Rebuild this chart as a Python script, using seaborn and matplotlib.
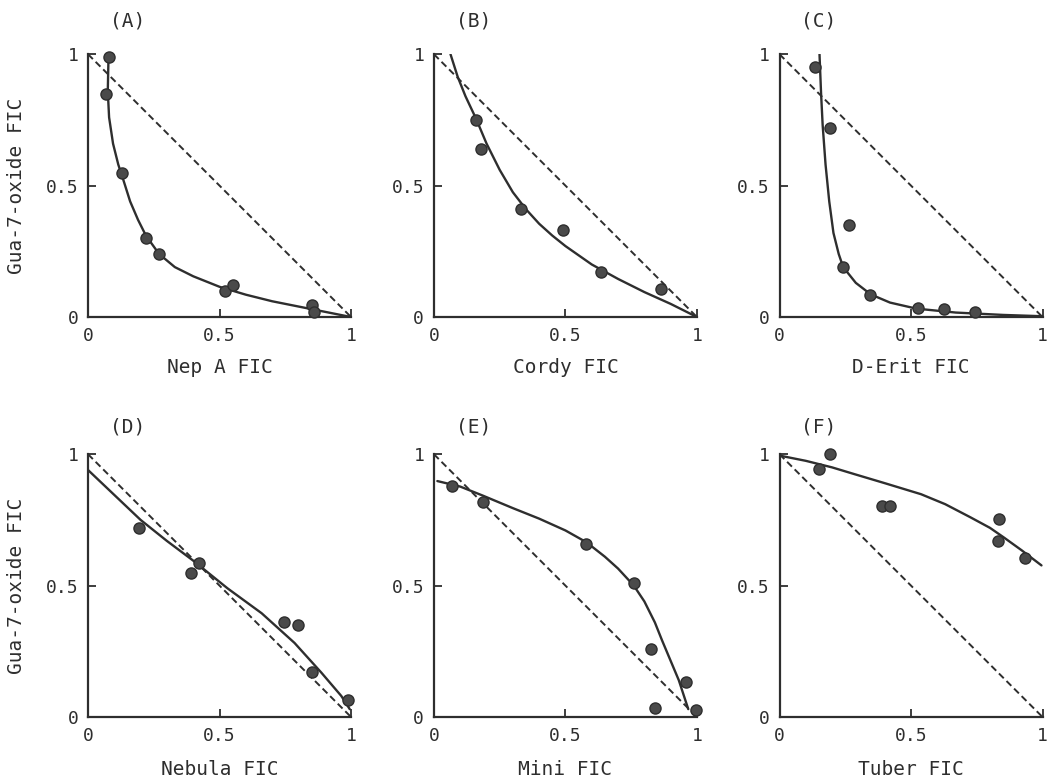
import matplotlib
matplotlib.use("Agg")
import matplotlib.pyplot as plt
import seaborn as sns

# isobologram panels: measured points + fitted curve, additivity line from (0,1) to (1,0)
panel_tags = ["(A)", "(B)", "(C)", "(D)", "(E)", "(F)"]
x_titles = ["Nep A FIC", "Cordy FIC", "D-Erit FIC", "Nebula FIC", "Mini FIC", "Tuber FIC"]
y_title = "Gua-7-oxide FIC"

diag_x = [0, 1]
diag_y = [1, 0]

# (A) Nep A
a_px = [0.08, 0.07, 0.13, 0.22, 0.27, 0.52, 0.55, 0.85, 0.86]
a_py = [0.99, 0.85, 0.55, 0.30, 0.24, 0.10, 0.12, 0.045, 0.02]
a_cx = [0.078, 0.075, 0.08, 0.095, 0.115, 0.13, 0.16, 0.19, 0.22, 0.27, 0.33, 0.40, 0.50, 0.60, 0.70, 0.80, 0.90, 1.0]
a_cy = [1.0, 0.86, 0.76, 0.66, 0.58, 0.535, 0.44, 0.37, 0.31, 0.24, 0.19, 0.155, 0.115, 0.085, 0.06, 0.04, 0.02, 0.0]

# (B) Cordy
b_px = [0.16, 0.18, 0.33, 0.49, 0.635, 0.865]
b_py = [0.75, 0.64, 0.41, 0.33, 0.17, 0.105]
b_cx = [0.063, 0.09, 0.12, 0.16, 0.20, 0.25, 0.30, 0.35, 0.40, 0.45, 0.50, 0.60, 0.70, 0.80, 0.90, 1.0]
b_cy = [1.0, 0.915, 0.84, 0.755, 0.66, 0.56, 0.475, 0.41, 0.355, 0.31, 0.27, 0.20, 0.145, 0.095, 0.05, 0.0]

# (C) D-Erit
c_px = [0.135, 0.19, 0.265, 0.24, 0.345, 0.525, 0.625, 0.745]
c_py = [0.95, 0.72, 0.35, 0.19, 0.085, 0.033, 0.03, 0.02]
c_cx = [0.152, 0.158, 0.164, 0.175, 0.189, 0.205, 0.225, 0.242, 0.29, 0.347, 0.42, 0.52, 0.67, 0.85, 1.0]
c_cy = [1.0, 0.85, 0.73, 0.58, 0.44, 0.32, 0.24, 0.19, 0.13, 0.086, 0.055, 0.032, 0.017, 0.008, 0.003]

# (D) Nebula
d_px = [0.195, 0.39, 0.42, 0.745, 0.80, 0.85, 0.99]
d_py = [0.72, 0.55, 0.585, 0.36, 0.35, 0.17, 0.065]
d_cx = [0.0, 0.1, 0.2, 0.3, 0.4, 0.53, 0.66, 0.785, 0.887, 0.963, 0.995]
d_cy = [0.94, 0.845, 0.75, 0.67, 0.595, 0.49, 0.395, 0.282, 0.169, 0.08, 0.03]

# (E) Mini
e_px = [0.07, 0.185, 0.58, 0.76, 0.825, 0.84, 0.96, 0.995]
e_py = [0.88, 0.82, 0.66, 0.51, 0.26, 0.035, 0.135, 0.025]
e_cx = [0.013, 0.1, 0.185, 0.3, 0.4, 0.5, 0.58, 0.65, 0.70, 0.76, 0.80, 0.84, 0.868, 0.931, 0.967]
e_cy = [0.898, 0.877, 0.843, 0.795, 0.755, 0.71, 0.665, 0.61, 0.565, 0.50, 0.44, 0.36, 0.29, 0.14, 0.03]

# (F) Tuber
f_px = [0.15, 0.19, 0.39, 0.42, 0.835, 0.83, 0.935]
f_py = [0.945, 1.0, 0.805, 0.805, 0.755, 0.67, 0.605]
f_cx = [0.0, 0.1, 0.2, 0.286, 0.4, 0.538, 0.63, 0.726, 0.80, 0.852, 0.92, 0.996]
f_cy = [0.995, 0.975, 0.95, 0.924, 0.89, 0.848, 0.81, 0.76, 0.72, 0.684, 0.635, 0.577]

points = [(a_px, a_py), (b_px, b_py), (c_px, c_py), (d_px, d_py), (e_px, e_py), (f_px, f_py)]
curves = [(a_cx, a_cy), (b_cx, b_cy), (c_cx, c_cy), (d_cx, d_cy), (e_cx, e_cy), (f_cx, f_cy)]

sns.set_style("ticks")
plt.rcParams["font.family"] = ["DejaVu Sans Mono", "DejaVu Sans"]

ink = "#2e2e2e"
fig = plt.figure(figsize=(10.52, 7.82), dpi=100)

lefts = [0.0837, 0.4125, 0.741]
bottoms = [0.5946, 0.0831]
w, h = 0.25, 0.336

for i in range(6):
    row, col = divmod(i, 3)
    ax = fig.add_axes([lefts[col], bottoms[row], w, h])
    sns.lineplot(x=diag_x, y=diag_y, ax=ax, color=ink, lw=1.4, linestyle=(0, (3.5, 2)))
    cx, cy = curves[i]
    sns.lineplot(x=cx, y=cy, ax=ax, color=ink, lw=1.7, sort=False, estimator=None)
    px, py = points[i]
    sns.scatterplot(x=px, y=py, ax=ax, s=64, color="#4a4a4a", edgecolor=ink,
                    linewidth=1.0, zorder=5, clip_on=False)
    ax.set_xlim(0, 1)
    ax.set_ylim(0, 1)
    ax.set_xticks([0, 0.5, 1])
    ax.set_yticks([0, 0.5, 1])
    ax.set_xticklabels(["0", "0.5", "1"])
    ax.set_yticklabels(["0", "0.5", "1"])
    ax.tick_params(direction="in", length=6, width=1.3, colors=ink, labelsize=13, pad=7)
    for s in ["top", "right"]:
        ax.spines[s].set_visible(False)
    for s in ["left", "bottom"]:
        ax.spines[s].set_linewidth(1.6)
        ax.spines[s].set_color(ink)
    ax.set_xlabel(x_titles[i], fontsize=14, color=ink)
    ax.xaxis.set_label_coords(0.5, -0.155 if row == 0 else -0.165)
    if col == 0:
        ax.set_ylabel(y_title, fontsize=14, color=ink)
        ax.yaxis.set_label_coords(-0.235, 0.5)
    else:
        ax.set_ylabel("")
    ax.text(0.15, 1.125 if row == 0 else 1.105, panel_tags[i], transform=ax.transAxes,
            ha="center", va="center", fontsize=14, color=ink)

fig.savefig("out.png", dpi=100, facecolor="white")
